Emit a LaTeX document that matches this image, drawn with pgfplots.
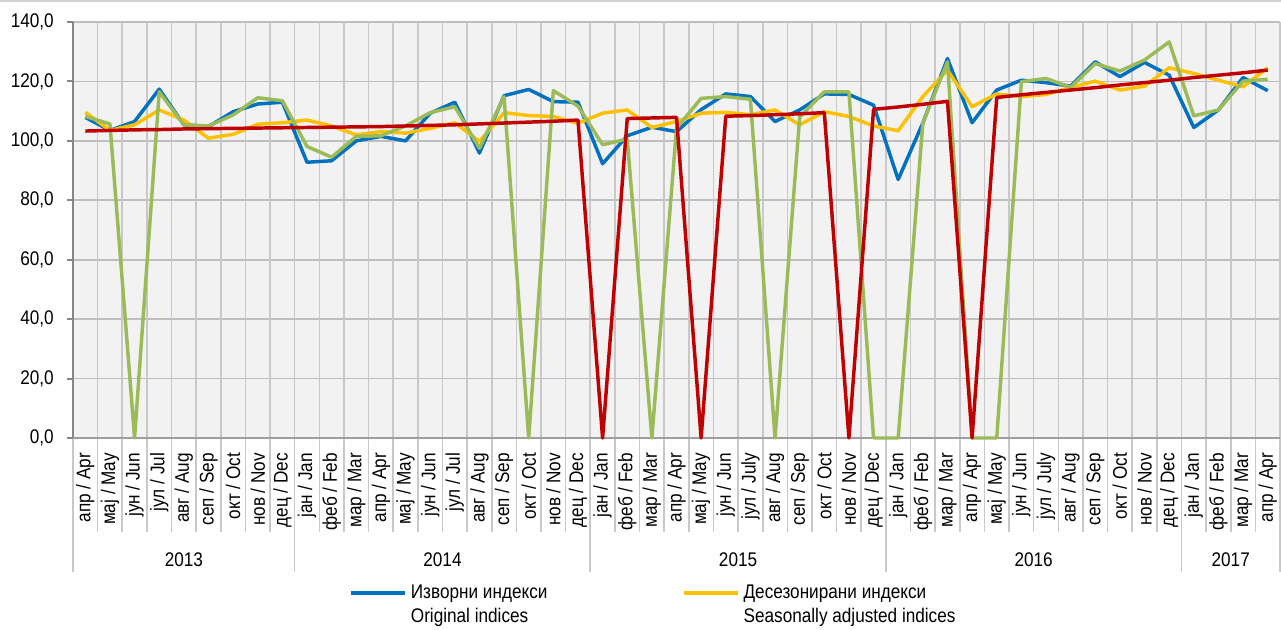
\documentclass[border=0pt]{standalone}
\usepackage{pgfplots}
\usepackage{pgfplotstable}
\pgfplotsset{compat=1.18}
\usepackage{fontspec}
\setmainfont{Liberation Sans}[FakeStretch=0.87]
\definecolor{cblue}{HTML}{0070C0}
\definecolor{cyellow}{HTML}{FFC000}
\definecolor{cgreen}{HTML}{9BBB59}
\definecolor{cred}{HTML}{C00000}
\definecolor{bgc}{HTML}{F2F2F2}
\definecolor{hgrid}{HTML}{BEBEBE}
\definecolor{vgrid}{HTML}{C8C8C8}
\definecolor{axc}{HTML}{868686}
\pgfplotstableread{
i blue yellow green red
0 107.9 109.6 108.2 103.3
1 103.5 103.5 105.7 103.5
2 106.5 105.4 0 103.7
3 117.4 110.4 116.5 103.8
4 105.4 107.0 105.4 104.0
5 104.8 100.9 105.0 104.1
6 109.8 102.2 108.7 104.2
7 112.4 105.6 114.5 104.3
8 113.0 106.1 113.5 104.4
9 92.8 107.0 98.1 104.5
10 93.3 105.0 94.5 104.6
11 100.0 102.0 101.5 104.7
12 101.5 103.1 101.7 104.8
13 100.0 102.6 105.0 105.0
14 109.3 104.2 109.5 105.2
15 113.0 106.1 111.5 105.4
16 95.9 99.8 97.5 105.7
17 115.2 109.5 114.9 106.0
18 117.3 108.5 0 106.3
19 113.2 108.2 116.9 106.6
20 113.0 105.9 111.7 107.0
21 92.3 109.3 98.7 0
22 101.7 110.4 100.6 107.5
23 104.6 104.5 0 107.7
24 103.1 106.5 104.2 107.9
25 110.5 109.3 114.3 0
26 115.8 109.6 114.9 108.3
27 114.9 108.8 114.0 108.5
28 106.5 110.4 0 108.8
29 110.4 105.4 108.0 109.1
30 115.8 109.8 116.5 109.5
31 115.6 108.2 116.5 0
32 112.0 105.0 0 110.6
33 87.0 103.4 0 111.4
34 106.0 114.9 106.0 112.3
35 127.7 123.8 126.6 113.3
36 106.1 111.5 0 0
37 117.1 115.8 0 114.6
38 120.4 114.9 119.9 115.5
39 119.6 115.6 121.0 116.3
40 118.4 118.0 118.0 117.1
41 126.6 120.1 126.0 117.9
42 121.6 117.1 123.5 118.8
43 126.4 118.4 127.2 119.6
44 122.1 124.6 133.3 120.4
45 104.5 122.7 108.4 121.3
46 110.4 120.4 110.4 122.1
47 121.3 118.2 120.1 122.9
48 116.9 124.6 120.7 123.8
}\datatable
\begin{document}
\fontsize{14.8pt}{18pt}\selectfont
\begin{tikzpicture}
\path[use as bounding box] (0,0) rectangle (960.75pt,472.5pt);
\draw[black!18, line width=1.5pt] (0,471.5pt) -- (960.75pt,471.5pt);
\begin{axis}[
  at={(54.75pt,144pt)}, anchor=south west,
  scale only axis, width=905.25pt, height=312pt,
  xmin=-0.5, xmax=48.5, ymin=0, ymax=140,
  clip=false,
  axis background/.style={fill=bgc},
  axis line style={draw=none},
  major tick length=0pt, minor tick length=0pt,
  ytick={0,20,...,140},
  ymajorgrids, grid style={hgrid, line width=1.2pt},
  /pgf/number format/assume math mode=true,
  yticklabel style={/pgf/number format/.cd, fixed, fixed zerofill, precision=1, use comma, 1000 sep={}, /tikz/.cd, anchor=east, inner sep=0pt, xshift=-14.25pt},
  xtick={0,...,48},
  xticklabels={апр / Apr, мај / May, јун / Jun, јул / Jul, авг / Aug, сеп / Sep, окт / Oct, нов / Nov, дец / Dec,
    јан / Jan, феб / Feb, мар / Mar, апр / Apr, мај / May, јун / Jun, јул / Jul, авг / Aug, сеп / Sep, окт / Oct, нов / Nov, дец / Dec,
    јан / Jan, феб / Feb, мар / Mar, апр / Apr, мај / May, јун / Jun, јул / July, авг / Aug, сеп / Sep, окт / Oct, нов / Nov, дец / Dec,
    јан / Jan, феб / Feb, мар / Mar, апр / Apr, мај / May, јун / Jun, јул / July, авг / Aug, сеп / Sep, окт / Oct, нов / Nov, дец / Dec,
    јан / Jan, феб / Feb, мар / Mar, апр / Apr},
  xticklabel style={rotate=90, anchor=east, inner xsep=11pt, inner ysep=0pt},
  legend columns=2,
  legend style={at={(axis description cs:0.2288,-0.352)}, anchor=north west, draw=none, fill=none, inner sep=0pt,
    nodes={inner sep=0pt},
    cells={align=left, anchor=west},
    /tikz/every odd column/.append style={column sep=3pt},
    /tikz/every even column/.append style={column sep=101pt}},
  legend image code/.code={\draw[#1] (0pt,9pt) -- (40.5pt,9pt);},
]
\pgfplotsinvokeforeach{0.5,1.5,...,48.5}{\draw[vgrid, line width=1.2pt] (axis cs:#1,140) -- (axis cs:#1,0) -- ++(0pt,-70.5pt);}
\pgfplotsinvokeforeach{-0.5,8.5,20.5,32.5,44.5,48.5}{\draw[vgrid, line width=1.2pt] (axis cs:#1,0) -- ++(0pt,-100.5pt);}
\draw[axc, line width=1.5pt] (axis cs:-0.5,0) -- (axis cs:-0.5,140);
\pgfplotsinvokeforeach{0,20,...,140}{\draw[axc, line width=1.5pt] (axis cs:-0.5,#1) -- ++(-4.5pt,0pt);}
\draw[axc!80, line width=1.5pt] (axis cs:-0.5,0) -- (axis cs:48.5,0);
\addplot[cblue, line width=2.6pt, line join=round] table[x=i, y=blue] {\datatable};
\addlegendentry{Изворни индекси\\Original indices}
\addplot[cyellow, line width=2.6pt, line join=round] table[x=i, y=yellow] {\datatable};
\addlegendentry{Десезонирани индекси\\Seasonally adjusted indices}
\addplot[cgreen, line width=2.6pt, line join=round, forget plot] table[x=i, y=green] {\datatable};
\addplot[cred, line width=2.6pt, line join=round, forget plot] table[x=i, y=red] {\datatable};
\node at (axis cs:4,0) [yshift=-91.5pt] {2013};
\node at (axis cs:14.5,0) [yshift=-91.5pt] {2014};
\node at (axis cs:26.5,0) [yshift=-91.5pt] {2015};
\node at (axis cs:38.5,0) [yshift=-91.5pt] {2016};
\node at (axis cs:46.5,0) [yshift=-91.5pt] {2017};
\end{axis}
\end{tikzpicture}
\end{document}
